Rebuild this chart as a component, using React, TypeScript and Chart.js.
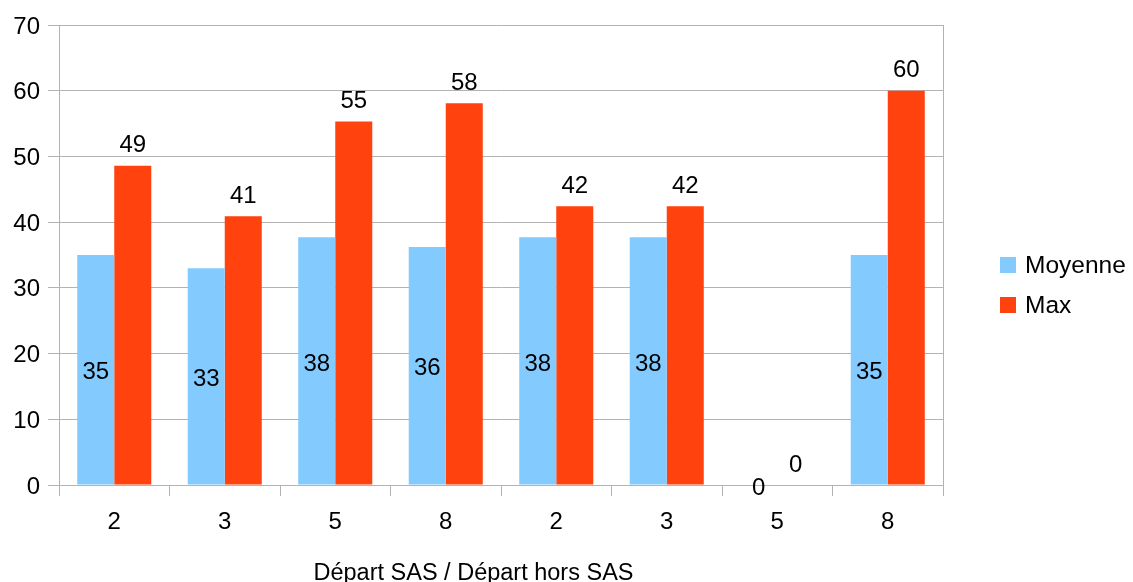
import React, { useEffect, useRef } from "react";
import { Chart, registerables } from "chart.js";

Chart.register(...registerables);

const categories = ["2", "3", "5", "8", "2", "3", "5", "8"];
const moyenne = [35, 33, 37.7, 36.2, 37.7, 37.7, 0, 35];
const maxValues = [48.6, 40.9, 55.3, 58.1, 42.4, 42.4, 0, 60];
const seriesNames = ["Moyenne", "Max"];
const seriesColors = ["#83CAFF", "#FF420E"];
const axisTitle = "Départ SAS / Départ hors SAS";

const FONT = "'Liberation Sans', Arial, sans-serif";
const GRID = "#b3b3b3";

const valueLabels = {
  id: "valueLabels",
  afterDatasetsDraw(chart: any) {
    const ctx = chart.ctx;
    ctx.save();
    ctx.font = `24px ${FONT}`;
    ctx.fillStyle = "#000";
    ctx.textAlign = "center";
    ctx.textBaseline = "middle";
    chart.data.datasets.forEach((ds: any, di: number) => {
      const meta = chart.getDatasetMeta(di);
      meta.data.forEach((bar: any, i: number) => {
        const v = ds.data[i];
        const txt = String(Math.round(v));
        const y = di === 0 ? (bar.y + bar.base) / 2 + 3 : bar.y - 20;
        ctx.fillText(txt, bar.x, y);
      });
    });
    ctx.restore();
  },
};

const sideLegendAndTitle = {
  id: "sideLegendAndTitle",
  afterDraw(chart: any) {
    const ctx = chart.ctx;
    const area = chart.chartArea;
    const x0 = area.right + 57;
    const yc = (area.top + area.bottom) / 2 + 10;
    ctx.save();
    ctx.font = `24.5px ${FONT}`;
    ctx.textAlign = "left";
    ctx.textBaseline = "middle";
    chart.data.datasets.forEach((ds: any, i: number) => {
      const y = yc + i * 40;
      ctx.fillStyle = ds.backgroundColor;
      ctx.fillRect(x0, y - 8, 16, 16);
      ctx.fillStyle = "#000";
      ctx.fillText(ds.label, x0 + 25, y + 1);
    });
    ctx.font = `23.5px ${FONT}`;
    ctx.textAlign = "center";
    ctx.fillText(axisTitle, area.right / 2 + 2, chart.height - 8);
    ctx.restore();
  },
};

export default function App() {
  const ref = useRef<HTMLCanvasElement | null>(null);
  useEffect(() => {
    if (!ref.current) return;
    const chart = new Chart(ref.current, {
      type: "bar",
      data: {
        labels: categories,
        datasets: [
          { label: seriesNames[0], data: moyenne, backgroundColor: seriesColors[0] },
          { label: seriesNames[1], data: maxValues, backgroundColor: seriesColors[1] },
        ],
      },
      options: {
        animation: false,
        responsive: false,
        maintainAspectRatio: false,
        layout: { padding: { top: 25, right: 190, left: 0, bottom: 0 } },
        datasets: { bar: { categoryPercentage: 0.67, barPercentage: 1 } },
        plugins: {
          legend: { display: false },
          tooltip: { enabled: false },
        },
        scales: {
          x: {
            afterFit: (s: any) => {
              s.height = 97;
            },
            grid: {
              offset: true,
              drawOnChartArea: true,
              color: (c: any) => (c.tick ? "rgba(0,0,0,0)" : GRID),
              tickColor: GRID,
              tickLength: 11,
            },
            border: { color: GRID },
            ticks: { color: "#000", font: { family: FONT, size: 24 }, padding: 12 },
          },
          y: {
            min: 0,
            max: 70,
            afterFit: (s: any) => {
              s.width = 59;
            },
            grid: { color: GRID, tickColor: GRID, tickLength: 11 },
            border: { color: GRID },
            ticks: {
              stepSize: 10,
              color: "#000",
              font: { family: FONT, size: 24 },
              padding: 8,
              labelOffset: 2,
            },
          },
        },
      },
      plugins: [valueLabels, sideLegendAndTitle],
    });
    return () => chart.destroy();
  }, []);
  return (
    <div style={{ position: "fixed", left: 0, top: 0, width: 1133, height: 582, background: "#fff" }}>
      <canvas ref={ref} width={1133} height={582} style={{ display: "block" }} />
    </div>
  );
}
